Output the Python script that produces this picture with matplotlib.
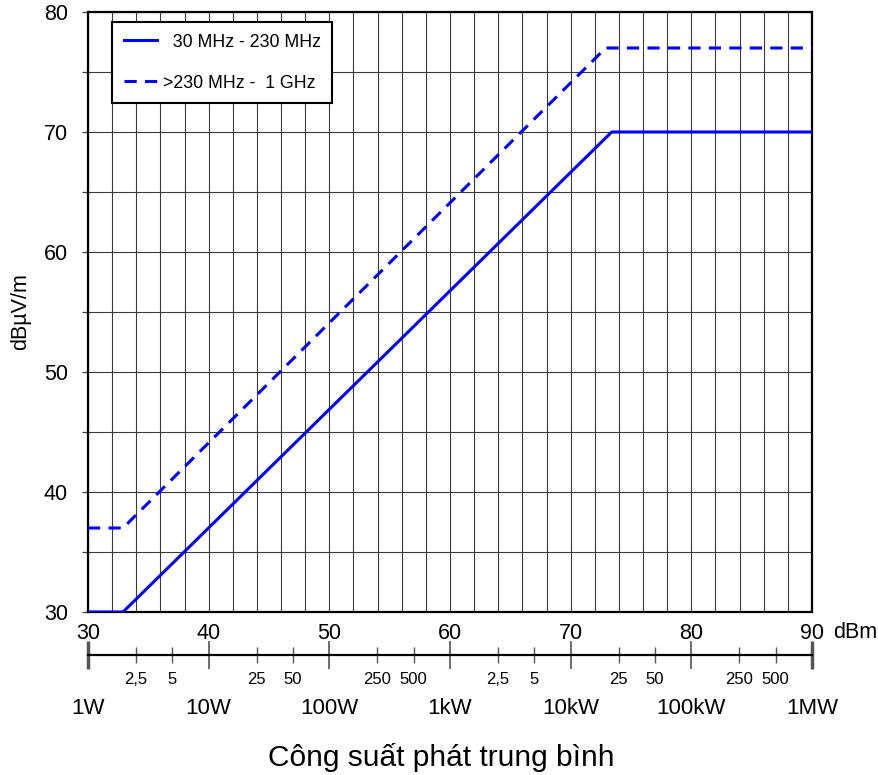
import numpy as np
import matplotlib
matplotlib.use('Agg')
import matplotlib.pyplot as plt

plt.rcParams['font.family'] = ['Liberation Sans', 'DejaVu Sans']

# Field strength limits vs. average transmit power (dBm)
solid_x = [30, 32.9, 73.4, 90]
solid_y = [30, 30, 70, 70]
dashed_x = [30, 32.9, 72.9, 90]
dashed_y = [37, 37, 77, 77]
series_labels = ['  30 MHz - 230 MHz', '>230 MHz -  1 GHz']

dbm_ticks = [30, 40, 50, 60, 70, 80, 90]
db_ticks = [30, 40, 50, 60, 70, 80]

# power scale under the dBm axis
power_major_w = [1, 10, 100, 1e3, 1e4, 1e5, 1e6]
power_major_labels = ['1W', '10W', '100W', '1kW', '10kW', '100kW', '1MW']
power_minor_w = [2.5, 5, 25, 50, 250, 500, 2.5e3, 5e3, 2.5e4, 5e4, 2.5e5, 5e5]
power_minor_labels = ['2,5', '5', '25', '50', '250', '500'] * 2


def w_to_dbm(w):
    return 10 * np.log10(np.asarray(w) * 1000.0)


fig = plt.figure(figsize=(8.79, 7.75), dpi=100)
ax = fig.add_axes([88 / 879, 163 / 775, 724 / 879, 600 / 775])

ax.plot(solid_x, solid_y, color='#0000ff', lw=2.2, label=series_labels[0],
        solid_joinstyle='miter', zorder=3)
ax.plot(dashed_x, dashed_y, color='#0000ff', lw=2.2, ls=(0, (4, 2.7)),
        label=series_labels[1], zorder=3)

ax.set_xlim(30, 90)
ax.set_ylim(30, 80)
ax.set_xticks(dbm_ticks)
ax.set_xticks(np.arange(30, 91, 2), minor=True)
ax.set_yticks(db_ticks)
ax.set_yticks(np.arange(30, 81, 5), minor=True)
ax.grid(True, which='both', color='#3a3a3a', lw=0.8, zorder=0)

ax.tick_params(axis='x', which='both', length=0, labelsize=15.5, pad=8)
ax.tick_params(axis='y', which='both', direction='out', length=4.5, width=0.9,
               color='#444444', labelsize=15.5, pad=10)
for s in ax.spines.values():
    s.set_linewidth(1.6)
    s.set_color('black')

ax.set_ylabel('dBµV/m', fontsize=15.5, labelpad=9)
ax.annotate('dBm', xy=(1, 0), xycoords='axes fraction', xytext=(15, -15),
            textcoords='offset points', ha='left', va='center', fontsize=15.5)

leg = ax.legend(loc='upper left', bbox_to_anchor=(24 / 724, 590 / 600),
                borderaxespad=0, fontsize=12.8, handlelength=1.9,
                handletextpad=0.3, labelspacing=1.35, borderpad=0.65,
                fancybox=False, framealpha=1, edgecolor='black')
leg.get_frame().set_linewidth(1.5)

# secondary power axis
ax2 = fig.add_axes([88 / 879, 120 / 775, 724 / 879, 0.0005])
ax2.set_xlim(30, 90)
ax2.set_yticks([])
ax2.patch.set_visible(False)
for side in ['top', 'left', 'right']:
    ax2.spines[side].set_visible(False)
ax2.spines['bottom'].set_linewidth(1.6)
ax2.set_xticks(w_to_dbm(power_major_w), labels=power_major_labels)
ax2.set_xticks(w_to_dbm(power_minor_w), labels=power_minor_labels, minor=True)
ax2.tick_params(axis='x', which='major', direction='inout', length=20,
                width=1.2, color='#555555', labelsize=16, pad=21)
ax2.tick_params(axis='x', which='minor', direction='inout', length=12,
                width=1.0, color='#555555', labelsize=12, pad=6)
major = ax2.xaxis.get_major_ticks()
for t in (major[0], major[-1]):
    t.tick1line.set_markeredgewidth(2.5)
    t.tick1line.set_color('black')

fig.text(0.502, 18 / 775, 'Công suất phát trung bình', ha='center', va='center',
         fontsize=21.5)

fig.savefig('out.png', dpi=100)
